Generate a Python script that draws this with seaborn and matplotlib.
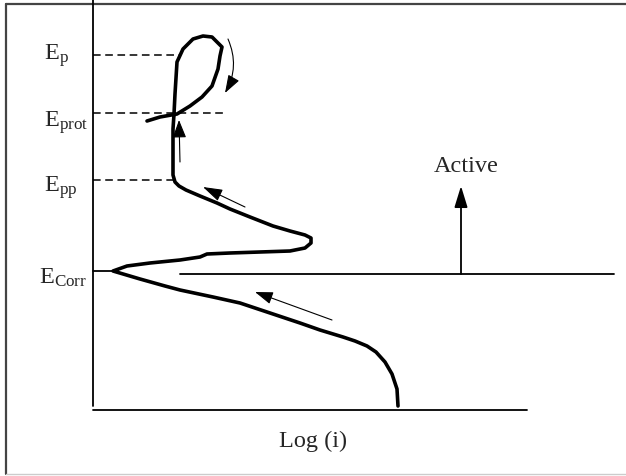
# Schematic cyclic polarization curve (pitting / protection potentials)
import matplotlib
matplotlib.use("Agg")
import matplotlib.pyplot as plt
import pandas as pd
import seaborn as sns

sns.set_style("white")
plt.rcParams["font.family"] = ["Liberation Serif", "DejaVu Serif"]
plt.rcParams["mathtext.fontset"] = "custom"
plt.rcParams["mathtext.rm"] = "Liberation Serif"

# curve, traced from the cathodic end up through the loop (picture units)
curve_x = [398, 397, 392, 385, 376, 367, 355, 343, 320, 300, 270, 240, 213, 180, 165, 140, 113,
           127, 150, 180, 200, 207, 230, 260, 290, 305, 311, 311, 305, 290, 273, 250, 230, 217,
           200, 186, 179, 175, 173, 173, 173, 174, 175, 177, 183, 193, 203, 212, 222, 220, 218,
           212, 202, 190, 177, 160, 147]
curve_y = [407, 390, 375, 363, 353, 347, 342, 338, 331, 324, 314, 304, 298, 291, 287, 280, 272,
           267, 264, 261, 258, 255, 254, 253, 252, 249, 244, 239, 236, 232, 227, 218, 210, 204,
           197, 191, 187, 183, 176, 150, 130, 115, 95, 63, 50, 40, 37, 38, 48, 57, 70,
           87, 98, 107, 115, 118, 122]

# potential levels and labels
levels = {"Ep": 56, "Eprot": 114, "Epp": 181, "Ecorr": 272}
level_ends = {"Ep": 180, "Eprot": 225, "Epp": 173}
labels = [r"$\mathrm{E_{p}}$", r"$\mathrm{E_{prot}}$", r"$\mathrm{E_{pp}}$", r"$\mathrm{E_{Corr}}$"]
label_x = [44, 44, 44, 39]
label_base = [60, 127, 192, 284]

axis_x0, axis_y0 = 93, 411
axis_x1, axis_top = 527, 0
active_line_y = 275

fig = plt.figure(figsize=(6.26, 4.77), dpi=100)
ax = fig.add_axes([0, 0, 1, 1])

# outer frame
ax.plot([6, 626], [5, 5], color="#444444", lw=1.6)
ax.plot([6, 6], [5, 475], color="#444444", lw=1.6)
ax.plot([6, 626], [475, 475], color="#cccccc", lw=1.0)

# axes
ax.plot([axis_x0, axis_x0], [axis_top, 407], color="black", lw=1.3)
ax.plot([axis_x0, axis_x1], [axis_y0, axis_y0], color="black", lw=1.3)

# curve
df = pd.DataFrame({"x": curve_x, "y": curve_y})
sns.lineplot(data=df, x="x", y="y", sort=False, color="black", lw=2.6, ax=ax,
             estimator=None)
ax.set_xlim(0, 626)
ax.set_ylim(477, 0)
ax.axis("off")

# dashed potential lines
for key in ["Ep", "Eprot", "Epp"]:
    ax.plot([axis_x0, level_ends[key]], [levels[key], levels[key]], color="black",
            lw=1.1, ls=(0, (5, 3)))
ax.plot([axis_x0, 113], [levels["Ecorr"], levels["Ecorr"]], color="black", lw=1.3)
ax.plot([180, 614], [active_line_y, active_line_y], color="black", lw=1.3)

for lab, lx, ly in zip(labels, label_x, label_base):
    ax.text(lx, ly, lab, fontsize=17.5, ha="left", va="baseline")

ax.text(466, 172, "Active", fontsize=17.5, ha="center", va="baseline")
ax.text(313, 447, "Log (i)", fontsize=17.5, ha="center", va="baseline")

# arrows
def arrow(tip, tail, hl, hw, lw=0.8, conn="arc3"):
    ax.annotate("", xy=tip, xytext=tail,
                arrowprops=dict(arrowstyle=f"-|>,head_length={hl},head_width={hw}",
                                color="black", lw=lw, mutation_scale=10,
                                shrinkA=0, shrinkB=0, connectionstyle=conn))

arrow((461, 187), (461, active_line_y), 1.3, 0.4, lw=1.3)
arrow((255, 293), (332, 321), 1.1, 0.38)
arrow((203, 188), (245, 208), 1.2, 0.38)
arrow((179, 121), (180, 163), 1.1, 0.42)
arrow((225, 94), (228, 40), 1.1, 0.38, conn="arc3,rad=-0.25")

fig.savefig("out.png", dpi=100)
